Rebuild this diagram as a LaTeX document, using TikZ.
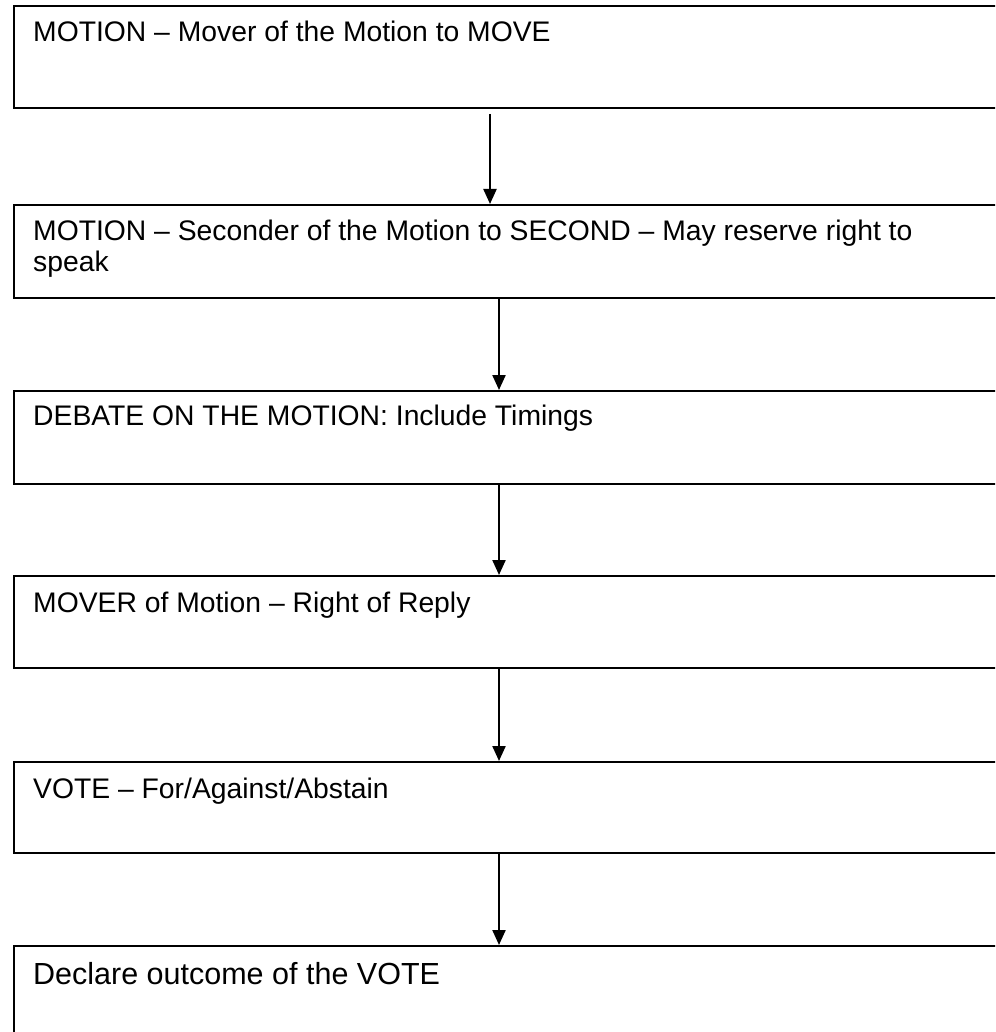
\documentclass[tikz,border=0pt]{standalone}
\usepackage{fontspec}
\setmainfont{Liberation Sans}
\usetikzlibrary{arrows.meta,calc}
\begin{document}
\begin{tikzpicture}[x=1pt,y=1pt,
  stepbox/.style={draw=black,line width=2pt,rectangle,inner sep=0pt,anchor=north west,minimum width=1000pt},
  steptext/.style={anchor=base west,inner sep=0pt,align=left,font=\fontsize{28.3}{31}\selectfont},
  bigtext/.style={anchor=base west,inner sep=0pt,align=left,font=\fontsize{30.5}{34}\selectfont},
  arr/.style={line width=2.2pt,-{Triangle[width=13pt,length=15pt]}}]
\useasboundingbox (0,0) rectangle (995,-1032);
\clip (0,0) rectangle (995,-1032);
\node[stepbox,minimum height=102pt] (b1) at (13,-5) {};
\node[stepbox,minimum height=93pt] (b2) at (13,-204) {};
\node[stepbox,minimum height=93pt] (b3) at (13,-390) {};
\node[stepbox,minimum height=92pt] (b4) at (13,-575) {};
\node[stepbox,minimum height=91pt] (b5) at (13,-761) {};
\node[stepbox,minimum height=100pt] (b6) at (13,-945) {};
\node[steptext] (t1) at (33,-42) {MOTION – Mover of the Motion to MOVE};
\node[steptext,anchor=north west] (t2) at (33,-220) {MOTION – Seconder of the Motion to SECOND – May reserve right to\\speak};
\node[steptext] (t3) at (33,-425) {DEBATE ON THE MOTION: Include Timings};
\node[steptext] (t4) at (33,-612) {MOVER of Motion – Right of Reply};
\node[steptext] (t5) at (33,-798) {VOTE – For/Against/Abstain};
\node[bigtext] (t6) at (33,-984) {Declare outcome of the VOTE};
\draw[arr] ($(b1.south west)+(477,-5)$) -- ($(b2.north west)+(477,0)$);
\draw[arr] ($(b2.south west)+(486,0)$) -- ($(b3.north west)+(486,0)$);
\draw[arr] ($(b3.south west)+(486,0)$) -- ($(b4.north west)+(486,0)$);
\draw[arr] ($(b4.south west)+(486,0)$) -- ($(b5.north west)+(486,0)$);
\draw[arr] ($(b5.south west)+(486,0)$) -- ($(b6.north west)+(486,0)$);
\end{tikzpicture}
\end{document}
